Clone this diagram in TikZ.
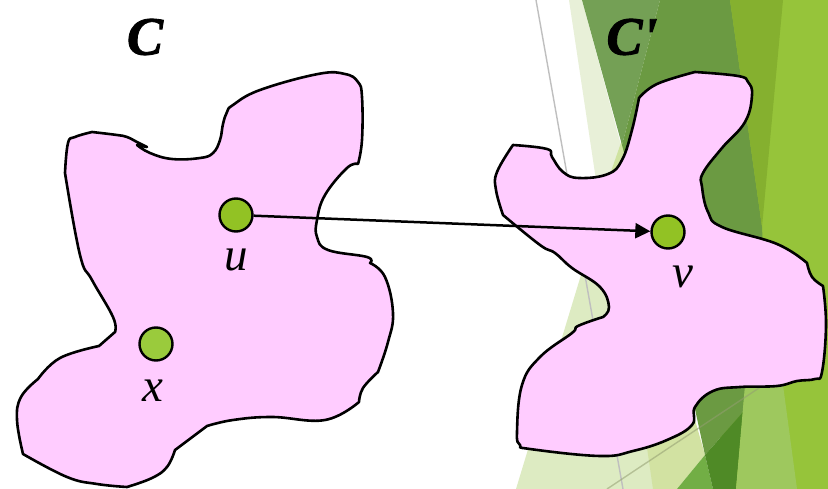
\documentclass[tikz,border=0pt]{standalone}
\usepackage{fontspec}
\setmainfont{Liberation Serif}
\newfontfamily\plainserif[BoldItalicFeatures={FakeBold=1.6}]{Liberation Serif}
\usetikzlibrary{arrows.meta}
\definecolor{blobpink}{HTML}{FFCCFF}
\definecolor{dotgreen}{HTML}{92C224}
\definecolor{dotlime}{HTML}{9ACB3C}
\definecolor{facetbase}{HTML}{96C43A}
\definecolor{facetolive}{HTML}{85B02F}
\definecolor{facetmoss}{HTML}{6B9A42}
\definecolor{facetmossl}{HTML}{74A055}
\definecolor{facetpale}{HTML}{DDEBC2}
\definecolor{facetpaler}{HTML}{E8F0D8}
\definecolor{facetsliver}{HTML}{CFE3A0}
\definecolor{facetsage}{HTML}{D2E2A2}
\definecolor{facetleaf}{HTML}{72AE45}
\definecolor{facetdeep}{HTML}{4F8A26}
\definecolor{facetsoft}{HTML}{9EC85E}
\tikzset{
  blob/.style={fill=blobpink,draw=black,line width=2.6pt,line join=round},
  vertex/.style={circle,draw=black,line width=2.4pt,minimum size=33pt,inner sep=0pt},
  setname/.style={font=\plainserif\fontsize{54}{54}\selectfont\bfseries\itshape,inner sep=0pt},
  vname/.style={font=\fontsize{47}{47}\selectfont\itshape,inner sep=0pt},
  link/.style={line width=2.5pt,-{Triangle[length=15pt,width=15pt]}},
  seam/.style={line width=1.4pt},
  sm/.style={smooth,tension=0.7}
}
\begin{document}
\begin{tikzpicture}[x=1pt,y=-1pt]
\useasboundingbox (0,0) rectangle (828,489);
\fill[white] (0,0) rectangle (828,489);
% faceted backdrop on the right
\fill[facetbase] (720,0) rectangle (828,489);
\fill[facetpaler] (569,0) -- (582,0) -- (625,160) -- (640,300) -- (599,200) -- cycle;
\fill[facetpale] (622,140) -- (700,300) -- (660,489) -- (516,489) -- cycle;
\fill[facetsliver] (622,140) -- (632,170) -- (608,180) -- cycle;
\fill[facetmossl] (582,0) -- (660,0) -- (622,145) -- cycle;
\fill[facetmoss] (660,0) -- (730,0) -- (762,227) -- (770,400) -- (690,400) -- (622,145) -- cycle;
\fill[facetolive] (730,0) -- (783,0) -- (762,227) -- cycle;
% lower facets
\fill[facetsage] (643,420) -- (695,420) -- (705,455) -- (677,489) -- (653,489) -- cycle;
\fill[facetleaf] (705,455) -- (713,489) -- (677,489) -- cycle;
\fill[facetmoss] (693,400) -- (745,385) -- (743,412) -- (705,455) -- cycle;
\fill[facetdeep] (705,455) -- (743,412) -- (736,489) -- (713,489) -- cycle;
\fill[facetsoft] (745,385) -- (783,385) -- (797,489) -- (736,489) -- cycle;
% thin seams across the backdrop
\draw[seam,color=black!25] (536,0) -- (623,489);
\draw[seam,color=black!30!facetsage,opacity=.55] (607,489) -- (762,386);
% first region
\path[blob] plot[sm] coordinates {(92,132) (117,135) (127,137) (137,142) (147,147)}
  -- (137,145)
  -- plot[sm] coordinates {(137,145) (150,153) (172,159) (200,158) (213,153) (220,140) (223,124) (227,112) (233,105) (260,90) (318,74) (345,74) (358,82) (362,97) (362,140) (358,164)}
  -- plot[sm] coordinates {(358,164) (347,168) (325,195) (317,220) (317,237) (328,250) (367,257) (370,263)}
  -- plot[sm] coordinates {(370,263) (385,277) (393,313) (388,342) (378,372)}
  -- plot[sm] coordinates {(378,372) (363,388) (359,402)}
  -- plot[sm] coordinates {(359,402) (325,420) (272,417) (233,420) (207,426)}
  -- (175,450)
  -- plot[sm] coordinates {(175,450) (167,467) (152,478) (127,487)}
  -- plot[sm] coordinates {(127,487) (97,484) (67,477) (23,454)}
  -- plot[sm] coordinates {(23,454) (17,420) (21,397) (38,379)}
  -- plot[sm] coordinates {(38,379) (60,358) (99,346)}
  -- (115,332)
  -- plot[sm] coordinates {(115,332) (113,317) (92,280) (80,255) (65,173)}
  -- plot[sm] coordinates {(65,173) (68,143) (75,137) (92,132)}
  -- cycle;
% second region
\path[blob] plot[sm] coordinates {(695,72) (738,76) (748,82) (752,95) (745,122) (722,148) (703,173) (702,187) (708,212) (722,227) (777,244) (807,263)}
  -- plot[sm] coordinates {(807,263) (812,277) (823,286)}
  -- plot[sm] coordinates {(823,286) (826,325) (822,372) (815,379) (797,381) (777,386) (740,387) (713,391) (695,407) (692,425) (667,440) (633,451) (600,456) (530,449) (520,445) (517,432) (522,385) (540,357) (572,333) (578,326) (603,317)}
  -- plot[sm] coordinates {(603,317) (609,307) (600,287) (572,268) (555,253) (540,245) (503,215)}
  -- plot[sm] coordinates {(503,215) (496,190) (497,172) (513,145)}
  -- plot[sm] coordinates {(513,145) (547,149) (552,157) (563,172) (579,178) (608,174) (622,160) (632,130) (639,98)}
  -- plot[sm] coordinates {(639,98) (657,84) (695,72)}
  -- cycle;
% vertices and the mapping between them
\node[vertex,fill=dotgreen] (u) at (236,215) {};
\node[vertex,fill=dotgreen] (v) at (668,232) {};
\node[vertex,fill=dotlime] (x) at (156,344) {};
\draw[link] (u) -- (v);
% labels
\node[setname] (cleft) at (145,37) {C};
\node[setname] (cright) at (632,37) {C'};
\node[vname] (ulabel) at (236,260) {u};
\node[vname] (xlabel) at (153,391) {x};
\node[vname] (vlabel) at (683,277) {v};
\end{tikzpicture}
\end{document}
